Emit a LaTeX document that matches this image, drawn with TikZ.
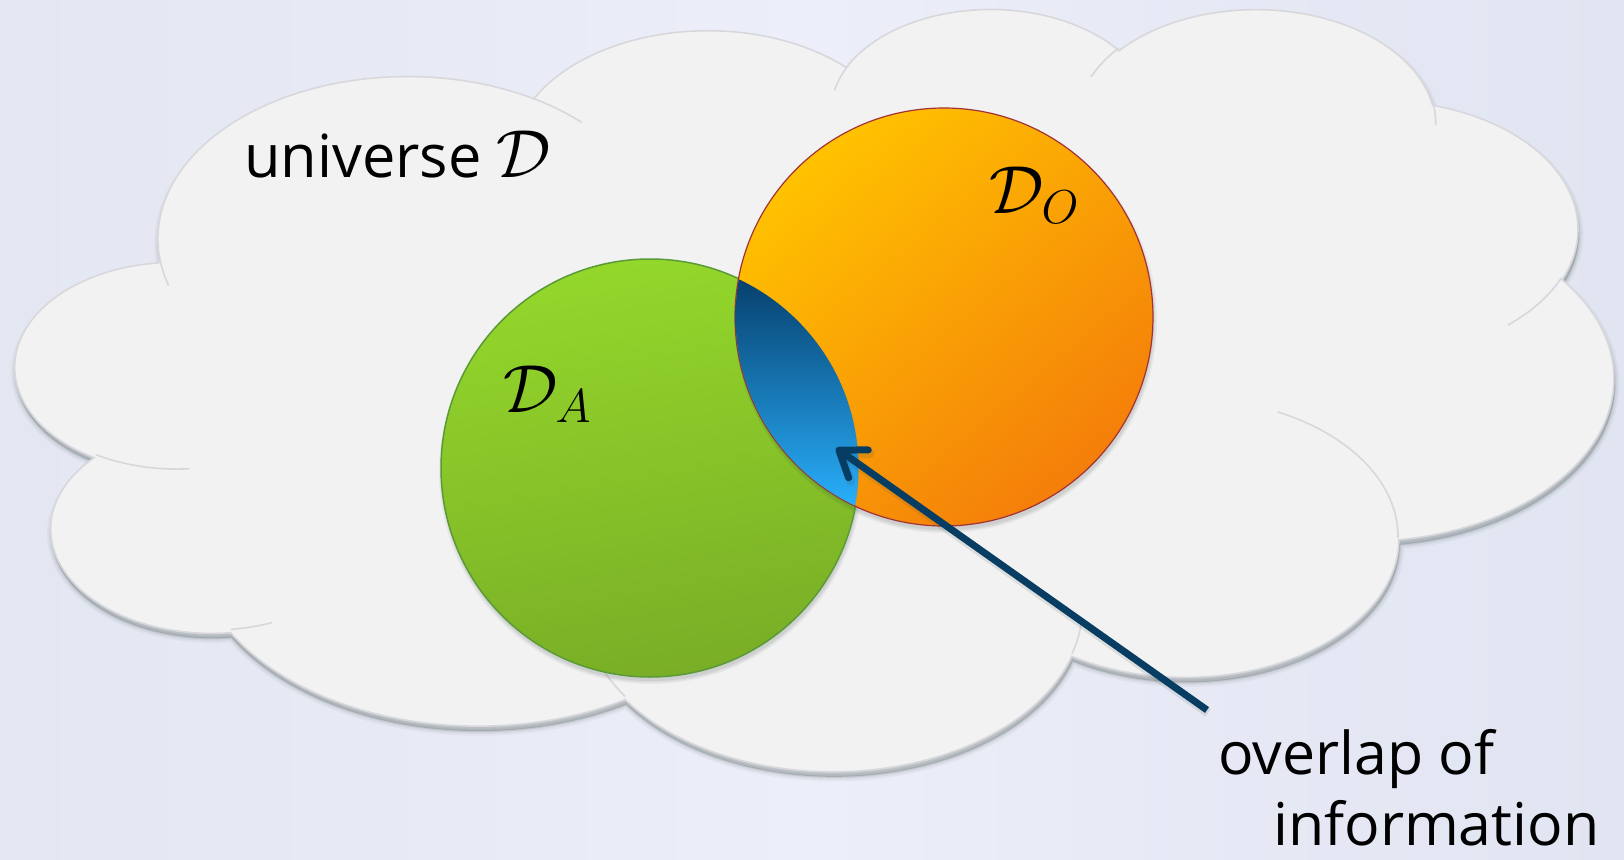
\RequirePackage{fix-cm}
\documentclass[tikz,border=0pt]{standalone}
\usepackage{fontspec}
\setmainfont{Open Sans}
\usetikzlibrary{arrows.meta}
\definecolor{bgA}{HTML}{E3E7F2}
\definecolor{bgB}{HTML}{ECEEF9}
\definecolor{bgC}{HTML}{E1E5F1}
\definecolor{cloudfill}{HTML}{F2F2F2}
\definecolor{cloudline}{HTML}{D8D8DC}
\definecolor{shadowc}{HTML}{3A4A44}
\definecolor{greenTop}{HTML}{94D72B}
\definecolor{greenBot}{HTML}{79AE26}
\definecolor{greenline}{HTML}{5A9A38}
\definecolor{orTop}{HTML}{FFC200}
\definecolor{orMid}{HTML}{FEB504}
\definecolor{orBot}{HTML}{F47E0A}
\definecolor{orline}{HTML}{A33236}
\definecolor{lensTop}{HTML}{063F6C}
\definecolor{lensBot}{HTML}{2AB2FF}
\definecolor{arrowc}{HTML}{083D63}

\newcommand\cldcalc[5]{%
  \pgfmathsetmacro\cldtmpa{atan2((#2)*sin(#4),(#3)*cos(#4))}%
  \pgfmathsetmacro\cldtmpb{atan2((#2)*sin(#4+#5),(#3)*cos(#4+#5))}%
  \pgfmathsetmacro\cldtmpb{(\cldtmpb<\cldtmpa) ? \cldtmpb+360 : \cldtmpb}%
  \expandafter\xdef\csname cldS#1\endcsname{\cldtmpa}%
  \expandafter\xdef\csname cldE#1\endcsname{\cldtmpb}%
}
\cldcalc{a}{6753}{9190}{-190.4875}{123.7805}
\cldcalc{b}{5333}{7267}{-144.1024}{89.9452}
\cldcalc{c}{4365}{5945}{-145.8079}{99.7230}
\cldcalc{d}{4857}{6595}{-130.9861}{117.2417}
\cldcalc{e}{5333}{7273}{-78.7089}{109.0269}
\cldcalc{f}{6775}{9220}{-46.2673}{130.2690}
\cldcalc{g}{5785}{7867}{0.6250}{114.0333}
\cldcalc{h}{6752}{9215}{22.4516}{115.1726}
\cldcalc{i}{7720}{10543}{66.2426}{75.7110}
\cldcalc{j}{4360}{5918}{-274.9421}{146.7356}
\cldcalc{k}{4345}{5945}{-246.8285}{152.5189}
\cldcalc{l}{4345}{5945}{86.742}{26.4295}
\cldcalc{m}{4360}{5918}{73.6105}{11.4475}
\cldcalc{n}{6752}{9215}{137.6242}{14.0811}
\cldcalc{o}{6752}{9215}{6.4533}{15.9984}
\cldcalc{p}{5785}{7867}{-70.2924}{70.9174}
\cldcalc{q}{5333}{7273}{30.3180}{27.7515}
\cldcalc{r}{4857}{6595}{-13.7443}{14.8589}
\cldcalc{s}{4857}{6595}{-149.1815}{18.1954}
\cldcalc{t}{4365}{5945}{-163.4943}{17.6864}
\cldcalc{u}{6753}{9190}{-66.7070}{12.3194}
\cldcalc{v}{6753}{9190}{157.6544}{11.8582}

\def\cloudpath{(3900,14370)
 arc[start angle=\cldSa,end angle=\cldEa,x radius=6753,y radius=9190]
 arc[start angle=\cldSb,end angle=\cldEb,x radius=5333,y radius=7267]
 arc[start angle=\cldSc,end angle=\cldEc,x radius=4365,y radius=5945]
 arc[start angle=\cldSd,end angle=\cldEd,x radius=4857,y radius=6595]
 arc[start angle=\cldSe,end angle=\cldEe,x radius=5333,y radius=7273]
 arc[start angle=\cldSf,end angle=\cldEf,x radius=6775,y radius=9220]
 arc[start angle=\cldSg,end angle=\cldEg,x radius=5785,y radius=7867]
 arc[start angle=\cldSh,end angle=\cldEh,x radius=6752,y radius=9215]
 arc[start angle=\cldSi,end angle=\cldEi,x radius=7720,y radius=10543]
 arc[start angle=\cldSj,end angle=\cldEj,x radius=4360,y radius=5918]
 arc[start angle=\cldSk,end angle=\cldEk,x radius=4345,y radius=5945]
 -- cycle}
\def\cloudinner{
 (4693,26177) arc[start angle=\cldSl,end angle=\cldEl,x radius=4345,y radius=5945]
 (6928,34899) arc[start angle=\cldSm,end angle=\cldEm,x radius=4360,y radius=5918]
 (16478,39090) arc[start angle=\cldSn,end angle=\cldEn,x radius=6752,y radius=9215]
 (28827,34751) arc[start angle=\cldSo,end angle=\cldEo,x radius=6752,y radius=9215]
 (34129,22954) arc[start angle=\cldSp,end angle=\cldEp,x radius=5785,y radius=7867]
 (41798,15354) arc[start angle=\cldSq,end angle=\cldEq,x radius=5333,y radius=7273]
 (38324,5426) arc[start angle=\cldSr,end angle=\cldEr,x radius=4857,y radius=6595]
 (29078,3952) arc[start angle=\cldSs,end angle=\cldEs,x radius=4857,y radius=6595]
 (22141,4720) arc[start angle=\cldSt,end angle=\cldEt,x radius=4365,y radius=5945]
 (14000,5192) arc[start angle=\cldSu,end angle=\cldEu,x radius=6753,y radius=9190]
 (4127,15789) arc[start angle=\cldSv,end angle=\cldEv,x radius=6753,y radius=9190]
}

\begin{document}
\begin{tikzpicture}[x=1pt,y=-1pt,
  cloudframe/.style={shift={(16,7)},x=0.0369676pt,y=-0.0176389pt},
  lbl/.style={inner sep=0pt, font=\fontsize{59.5}{72}\selectfont},
  mathlbl/.style={inner sep=0pt, font=\fontsize{68}{72}\selectfont},
  setcircle/.style={circle, minimum size=418pt, inner sep=0pt},
  pointer/.style={draw=arrowc, line width=7pt,
    -{Straight Barb[length=24pt,width=34pt,line cap=round,line join=round]}}
]
\useasboundingbox (0,0) rectangle (1624,859);
\shade[left color=bgA, right color=bgC, middle color=bgB] (0,0) rectangle (1624,859);

% cloud shadow
\begin{scope}[cloudframe, xshift=1pt, yshift=-5pt]
  \fill[shadowc, opacity=0.22] \cloudpath;
  \draw[shadowc, opacity=0.05, line width=9pt] \cloudpath;
  \draw[shadowc, opacity=0.07, line width=5pt] \cloudpath;
  \draw[shadowc, opacity=0.10, line width=2pt] \cloudpath;
\end{scope}
% cloud
\begin{scope}[cloudframe]
  \fill[cloudfill] \cloudpath;
  \draw[cloudline, line width=1.6pt] \cloudpath;
  \draw[cloudline, line width=1.6pt] \cloudinner;
\end{scope}

% circle shadows
\fill[shadowc, opacity=0.06] (651,472) circle[radius=212];
\fill[shadowc, opacity=0.07] (651,472) circle[radius=210.5];
\fill[shadowc, opacity=0.08] (651,472) circle[radius=209];
\fill[shadowc, opacity=0.06] (945,321) circle[radius=212];
\fill[shadowc, opacity=0.07] (945,321) circle[radius=210.5];
\fill[shadowc, opacity=0.08] (945,321) circle[radius=209];

% the two sets
\node[setcircle, draw=greenline, line width=1.5pt, top color=greenTop,
      bottom color=greenBot, shading angle=10] (DA) at (650,468) {};
\node[setcircle, draw=orline, line width=1.2pt, top color=orTop,
      middle color=orMid, bottom color=orBot, shading angle=40] (DO) at (944,317) {};

% overlap lens
\begin{scope}
  \clip (650,468) circle[radius=208.5];
  \fill[shadowc, opacity=0.10] (944,320) circle[radius=209];
  \fill[shadowc, opacity=0.10] (944,323) circle[radius=209];
  \clip (944,317) circle[radius=208.5];
  \shade[top color=lensTop, bottom color=lensBot] (730,276) rectangle (866,512);
\end{scope}

% labels
\node[lbl, anchor=base west] (univ) at (244,177)
  {universe {\fontsize{68}{72}\selectfont$\mathcal{D}$}};
\node[mathlbl, anchor=base west] (labA) at (503,412) {$\mathcal{D}_A$};
\node[mathlbl, anchor=base west] (labO) at (989,213) {$\mathcal{D}_O$};
\node[lbl, font=\fontsize{59}{71}\selectfont, anchor=base west, align=left, text depth=0pt] (ovl) at (1218,845)
  {overlap of\\\hspace*{55pt}information};

% pointer
\coordinate (tail) at (1207,710);
\coordinate (tip) at (836,448);
\draw[pointer, draw=shadowc, opacity=0.12, line width=9pt, transform canvas={xshift=1pt,yshift=-3pt}] (tail) -- (tip);
\draw[pointer] (tail) -- (tip);
\end{tikzpicture}
\end{document}
